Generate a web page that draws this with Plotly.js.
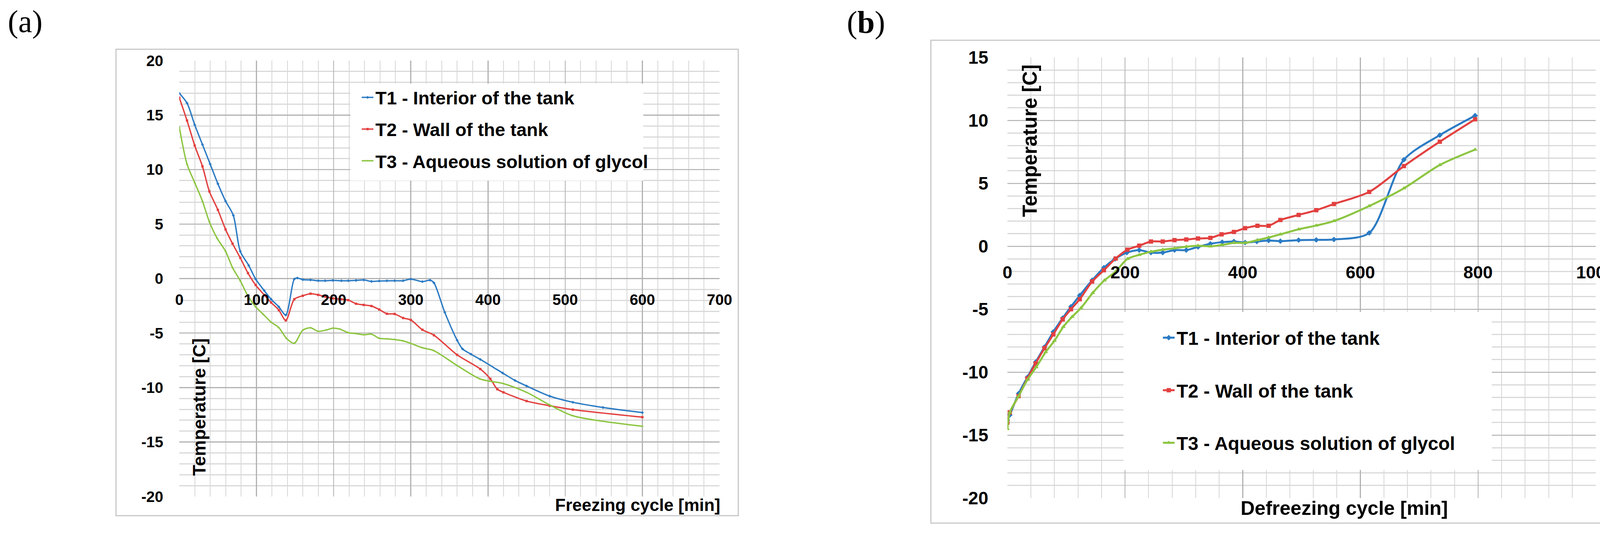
<!DOCTYPE html>
<html>
<head>
<meta charset="utf-8">
<script src="https://cdn.plot.ly/plotly-3.0.1.min.js"></script>
<style>
  html, body { margin: 0; padding: 0; background: #ffffff; }
  #chart { width: 4174px; height: 1371px; }
</style>
</head>
<body>
<div id="chart"></div>
<script>
// (a) freezing cycle, time in minutes
const freezeT1X = [0, 10, 20, 30, 40, 50, 60, 70, 79, 90, 99, 110, 119, 129, 138, 149, 153, 160, 170, 180, 189, 199, 210, 219, 229, 239, 249, 259, 269, 279, 290, 300, 315, 325, 330, 344, 360, 367, 378, 390, 419, 435, 450, 480, 510, 549, 600];
const freezeT1Y = [17.0, 16.1, 14.1, 12.3, 10.5, 8.7, 7.1, 5.8, 2.5, 1.2, -0.05, -1.1, -1.9, -2.6, -3.35, -0.05, 0.05, -0.1, -0.13, -0.2, -0.2, -0.17, -0.2, -0.2, -0.17, -0.13, -0.26, -0.22, -0.21, -0.2, -0.2, -0.05, -0.28, -0.15, -0.4, -3.1, -5.66, -6.46, -6.94, -7.42, -8.67, -9.35, -9.86, -10.79, -11.35, -11.83, -12.3];
const freezeT2X = [0, 10, 20, 30, 39, 50, 60, 69, 79, 89, 99, 110, 119, 129, 138, 149, 160, 170, 180, 189, 199, 210, 219, 229, 239, 249, 259, 269, 279, 290, 300, 315, 330, 360, 390, 403, 412, 420, 450, 480, 510, 600];
const freezeT2Y = [16.6, 14.5, 12.2, 10.3, 8.0, 6.3, 4.5, 3.2, 1.9, 0.5, -0.6, -1.5, -2.2, -2.9, -3.84, -1.9, -1.58, -1.39, -1.5, -1.66, -1.82, -1.9, -1.98, -2.31, -2.42, -2.52, -2.84, -3.23, -3.25, -3.62, -3.8, -4.7, -5.2, -7.0, -8.3, -9.2, -10.15, -10.44, -11.24, -11.67, -12.03, -12.72];
const freezeT3X = [0, 10, 20, 30, 39, 49, 60, 69, 79, 89, 99, 109, 119, 129, 139, 149, 160, 170, 180, 190, 199, 208, 219, 229, 239, 249, 259, 269, 279, 290, 300, 315, 330, 360, 390, 420, 450, 480, 510, 600];
const freezeT3Y = [13.9, 10.5, 8.8, 7.1, 5.2, 3.7, 2.5, 1.0, -0.2, -1.6, -2.6, -3.3, -4.0, -4.5, -5.5, -5.94, -4.73, -4.52, -4.84, -4.73, -4.56, -4.64, -4.97, -5.05, -5.16, -5.1, -5.48, -5.53, -5.6, -5.72, -5.95, -6.35, -6.62, -7.98, -9.22, -9.64, -10.44, -11.6, -12.59, -13.55];

// (b) defreezing cycle, time in minutes
const thawT1X = [0, 4, 19, 34, 48, 63, 78, 94, 108, 123, 144, 164, 183, 203, 224, 244, 264, 284, 304, 324, 345, 365, 385, 404, 424, 444, 464, 495, 525, 555, 615, 674, 735, 795];
const thawT1Y = [-13.8, -13.4, -11.7, -10.4, -9.2, -8.0, -6.8, -5.7, -4.8, -3.9, -2.7, -1.7, -1.0, -0.5, -0.3, -0.5, -0.5, -0.3, -0.3, -0.05, 0.2, 0.33, 0.38, 0.3, 0.38, 0.46, 0.41, 0.49, 0.51, 0.54, 1.06, 6.88, 8.83, 10.38];
const thawT2X = [0, 4, 19, 34, 48, 63, 78, 94, 108, 123, 144, 164, 184, 204, 224, 244, 264, 284, 304, 324, 345, 364, 385, 404, 425, 444, 464, 495, 525, 555, 615, 674, 735, 795];
const thawT2Y = [-14.0, -13.2, -11.9, -10.5, -9.3, -8.1, -7.0, -5.8, -5.0, -4.2, -2.8, -1.9, -0.97, -0.27, 0.05, 0.38, 0.38, 0.49, 0.54, 0.62, 0.67, 0.95, 1.14, 1.44, 1.63, 1.63, 2.09, 2.49, 2.87, 3.36, 4.32, 6.37, 8.31, 10.09];
const thawT3X = [0, 4, 19, 34, 49, 65, 80, 95, 110, 125, 145, 165, 184, 204, 224, 244, 264, 284, 304, 324, 345, 364, 385, 404, 425, 444, 464, 495, 525, 555, 615, 674, 735, 795];
const thawT3Y = [-14.5, -13.2, -11.9, -10.6, -9.6, -8.4, -7.5, -6.4, -5.6, -4.9, -3.7, -2.7, -2.0, -1.0, -0.68, -0.43, -0.27, -0.16, -0.03, 0.05, 0.0, 0.1, 0.27, 0.27, 0.49, 0.7, 0.95, 1.35, 1.65, 2.01, 3.2, 4.61, 6.46, 7.68];

const seriesNames = ['T1 - Interior of the tank', 'T2 - Wall of the tank', 'T3 - Aqueous solution of glycol'];

const leftXTicks = [0, 100, 200, 300, 400, 500, 600, 700];
const leftYTicks = [-20, -15, -10, -5, 0, 5, 10, 15, 20];
const rightXTicks = [0, 200, 400, 600, 800, 1000];
const rightYTicks = [-20, -15, -10, -5, 0, 5, 10, 15];

const W = 4174, H = 1371;
const px = v => v / W;          // pixel -> paper x
const py = v => 1 - v / H;      // pixel (from top) -> paper y

const colors = ['#2b7bc4', '#e2403f', '#8cc540'];
const symbols = ['diamond', 'square', 'triangle-up'];
const font = 'Liberation Sans, Arial, sans-serif';

function trace(x, y, i, side) {
    const left = side === 'a';
    return {
        x: x, y: y,
        type: 'scatter',
        mode: 'lines+markers',
        name: seriesNames[i],
        legend: left ? 'legend' : 'legend2',
        legendgroup: side + i,
        xaxis: left ? 'x' : 'x2',
        yaxis: left ? 'y' : 'y2',
        line: { color: colors[i], width: left ? 3.5 : 5, shape: 'spline', smoothing: 0.8 },
        marker: { color: colors[i], symbol: symbols[i], size: left ? 6 : 11 },
    };
}

const traces = [
    trace(freezeT1X, freezeT1Y, 0, 'a'),
    trace(freezeT2X, freezeT2Y, 1, 'a'),
    trace(freezeT3X, freezeT3Y, 2, 'a'),
    trace(thawT1X, thawT1Y, 0, 'b'),
    trace(thawT2X, thawT2Y, 1, 'b'),
    trace(thawT3X, thawT3Y, 2, 'b'),
];

// plot areas in pixels
const leftBox = { l: 459, r: 1842, t: 155, b: 1270 };
const rightBox = { l: 2579, r: 4085, t: 147, b: 1274 };

function zeroPos(box, r0, r1) {
    const d0 = py(box.b), d1 = py(box.t);
    return d0 + (0 - r0) / (r1 - r0) * (d1 - d0);
}

// x axis crosses the y axis at 0, as in the Excel originals
function xAxis(box, range, ticks, minor, yr, size, drop) {
    return {
        domain: [px(box.l), px(box.r)],
        range: range,
        anchor: 'free',
        position: zeroPos(box, yr[0], yr[1]),
        tickvals: ticks,
        ticktext: ticks.map(String),
        ticks: 'outside',
        ticklen: drop,
        tickcolor: 'rgba(0,0,0,0)',
        tickfont: { family: font, size: size, color: '#000000', weight: 'bold' },
        ticklabeloverflow: 'allow',
        showline: false,
        zeroline: false,
        showgrid: true,
        gridcolor: '#b2b2b2',
        gridwidth: 2.5,
        minor: { dtick: minor, ticks: '', showgrid: true, gridcolor: '#d6d6d6', gridwidth: 2 },
        fixedrange: true,
    };
}

function yAxis(box, range, ticks, size, standoff, anchor) {
    return {
        domain: [py(box.b), py(box.t)],
        range: range,
        anchor: anchor,
        tickvals: ticks,
        ticktext: ticks.map(String),
        ticks: '',
        ticklabelstandoff: standoff,
        tickfont: { family: font, size: size, color: '#000000', weight: 'bold' },
        showline: false,
        zeroline: false,
        showgrid: true,
        gridcolor: '#b2b2b2',
        gridwidth: 2.5,
        minor: { dtick: 1, ticks: '', showgrid: true, gridcolor: '#d9d9d9', gridwidth: 3 },
        fixedrange: true,
    };
}

function rect(x0, y0, x1, y1, line, fill) {
    return {
        type: 'rect', xref: 'paper', yref: 'paper',
        x0: px(x0), x1: px(x1), y0: py(y1), y1: py(y0),
        line: line, fillcolor: fill, layer: 'above',
    };
}

function note(text, x, y, size, opts = {}) {
    return Object.assign({
        text: text, xref: 'paper', yref: 'paper', x: px(x), y: py(y),
        xanchor: 'center', yanchor: 'middle',
        showarrow: false,
        font: { family: font, size: size, color: '#000000', weight: 'bold' },
    }, opts);
}

const layout = {
    width: W, height: H,
    margin: { l: 0, r: 0, t: 0, b: 0 },
    paper_bgcolor: '#ffffff',
    plot_bgcolor: '#ffffff',
    showlegend: true,
    xaxis: xAxis(leftBox, [0, 700], leftXTicks, 20, [-20, 20], 39, 20),
    yaxis: yAxis(leftBox, [-20, 20], leftYTicks, 39, 40, 'x'),
    xaxis2: xAxis(rightBox, [0, 1000], rightXTicks, 40, [-20, 15], 45, 27),
    yaxis2: yAxis(rightBox, [-20, 15], rightYTicks, 46, 48, 'x2'),
    legend: {
        x: px(921), y: py(212), xanchor: 'left', yanchor: 'top',
        bgcolor: 'rgba(0,0,0,0)',
        font: { family: font, size: 47, color: '#000000', weight: 'bold' },
        tracegroupgap: 17,
        itemwidth: 30,
    },
    legend2: {
        x: px(2972), y: py(826), xanchor: 'left', yanchor: 'top',
        bgcolor: 'rgba(0,0,0,0)',
        font: { family: font, size: 48, color: '#000000', weight: 'bold' },
        tracegroupgap: 69,
        itemwidth: 30,
    },
    shapes: [
        // outer chart frames
        Object.assign(rect(297, 126, 1890, 1319, { color: '#c8c8c8', width: 3 }, 'rgba(0,0,0,0)'), { layer: 'below' }),
        Object.assign(rect(2383, 103, 4200, 1338, { color: '#c8c8c8', width: 3 }, 'rgba(0,0,0,0)'), { layer: 'below' }),
        // white legend panels
        rect(897, 214, 1647, 462, { width: 0 }, '#ffffff'),
        rect(2876, 798, 3819, 1202, { width: 0 }, '#ffffff'),
    ],
    annotations: [
        note('Temperature [C]', 510, 1041, 46, { textangle: -90 }),
        note('Freezing cycle [min]', 1846, 1291, 44, { xanchor: 'right' }),
        note('Temperature [C]', 2636, 360, 51, { textangle: -90 }),
        note('Defreezing cycle [min]', 3441, 1300, 50),
        note('(a)', 64, 56, 80, { font: { family: 'Liberation Serif, serif', size: 80, color: '#000000' } }),
        note('(<b>b</b>)', 2217, 57, 80, { font: { family: 'Liberation Serif, serif', size: 80, color: '#000000' } }),
    ],
};

Plotly.newPlot('chart', traces, layout, { displayModeBar: false, staticPlot: true });
</script>
</body>
</html>
